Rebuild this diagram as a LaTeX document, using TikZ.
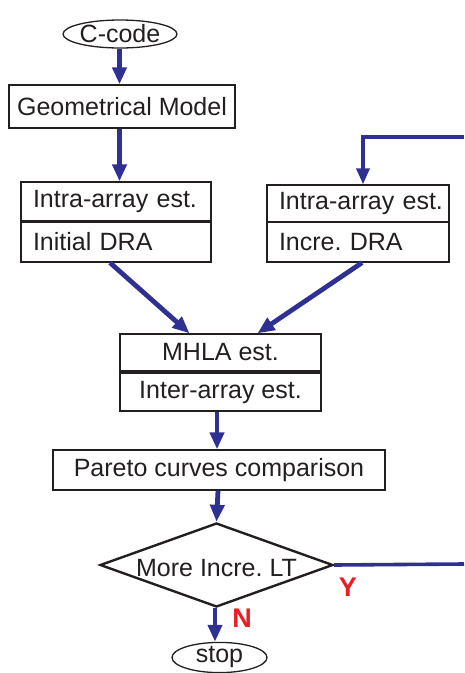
\documentclass[tikz,border=0pt]{standalone}
\usepackage{fontspec}
\setmainfont{Liberation Sans}
\usetikzlibrary{arrows.meta,shapes.geometric}
\definecolor{flowblue}{HTML}{2E3192}
\definecolor{flowred}{HTML}{ED1C24}
\definecolor{inkgray}{HTML}{231F20}
\frenchspacing
\tikzset{
  lbl/.style={font=\fontsize{25}{28}\selectfont, text=inkgray},
  terminal/.style={ellipse, draw=inkgray, line width=1.3pt, inner sep=0pt, lbl},
  procbox/.style={rectangle, draw=inkgray, line width=1.4pt, inner sep=0pt, lbl},
  leftbox/.style={procbox, align=left, inner xsep=2pt,
    execute at begin node={\hspace*{#1}}},
  decision/.style={diamond, draw=inkgray, line width=2.4pt, inner sep=0pt},
  flow/.style={draw=flowblue, line width=4.8pt, -{Triangle[width=14pt,length=17pt]}},
  loopline/.style={draw=flowblue, line width=3.6pt},
  answer/.style={font=\fontsize{27}{30}\selectfont\bfseries, text=flowred}
}
\begin{document}
\begin{tikzpicture}[x=1pt,y=-1pt]
\useasboundingbox (0,0) rectangle (464,673);

% terminals and process boxes
\node[terminal, minimum width=96pt, minimum height=28pt] (ccode) at (120,34) {C-code};
\node[procbox, minimum width=226pt, minimum height=43pt] (geo) at (122,106.5) {Geometrical Model};

\node[leftbox=10pt, text width=186pt, minimum height=39pt] (intraL) at (116,201.5) {Intra-array est.};
\node[leftbox=10pt, text width=186pt, minimum height=40pt] (initdra) at (116,242) {Initial DRA};

\node[leftbox=10pt, text width=178pt, minimum height=37pt] (intraR) at (358,203.5) {Intra-array est.};
\node[leftbox=10pt, text width=178pt, minimum height=40pt] (incdra) at (358,242) {Incre. DRA};

\node[procbox, minimum width=201pt, minimum height=37pt] (mhla) at (220.5,352.5) {MHLA est.};
\node[procbox, minimum width=201pt, minimum height=38pt] (inter) at (220.5,392) {Inter-array est.};

\node[procbox, minimum width=332pt, minimum height=40pt] (pareto) at (219,470) {Pareto curves comparison};

\node[decision, minimum width=233pt, minimum height=84pt,
      label={[lbl, yshift=-3pt]center:More Incre. LT}] (dec) at (216.5,565) {};

\node[terminal, minimum width=95pt, minimum height=29pt] (stop) at (219.5,657.5) {stop};

% left column arrows run on one vertical line below the start ellipse
\coordinate (cfoot) at ([xshift=-0.5pt]ccode.south);

% loop ends leaving the drawing on the right
\coordinate (loopin) at (464,137);
\coordinate (loopout) at (464,564);

% main flow
\draw[flow] (cfoot) -- (geo.north -| cfoot);
\draw[flow] (geo.south -| cfoot) -- (intraL.north -| cfoot);
\draw[flow] ([xshift=-6pt]initdra.south) -- ([xshift=-31pt]mhla.north);
\draw[flow] ([xshift=4pt]incdra.south) -- ([xshift=37pt]mhla.north);
\draw[flow] ([xshift=-3.5pt]inter.south) -- ([xshift=-2pt]pareto.north);
\draw[flow] ([xshift=-1pt]pareto.south) -- (dec.north);
\draw[flow] ([xshift=-1.5pt]dec.south) -- ([xshift=-4.5pt]stop.north);

% feedback loop
\draw[loopline] (dec.east) -- (loopout);
\draw[loopline, -{Triangle[width=13pt,length=16pt]}] (loopin) -| ([xshift=5pt]intraR.north);

% branch labels
\node[answer] (yes) at (348,587) {Y};
\node[answer] (no) at (242,618) {N};
\end{tikzpicture}
\end{document}
